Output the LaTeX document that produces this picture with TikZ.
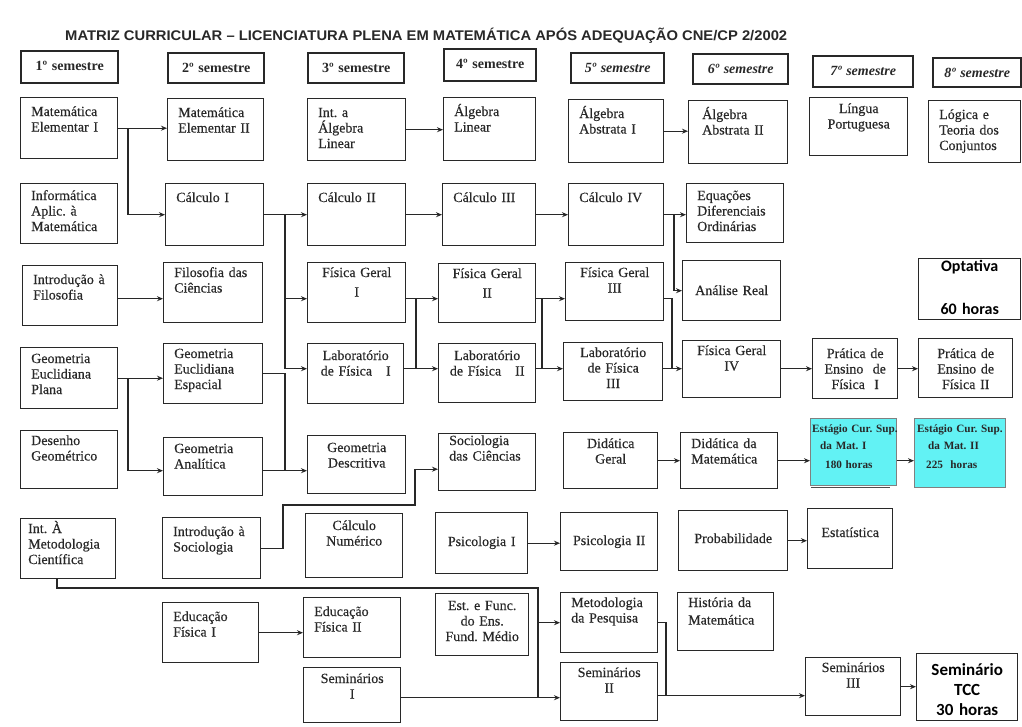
\documentclass[tikz,border=0pt]{standalone}
\usepackage{fontspec}
\usepackage{graphicx}
\usetikzlibrary{arrows.meta,calc}
\newfontfamily\crsfont[FakeBold=0.35]{Liberation Serif}
\newfontfamily\estfont{Liberation Serif}
\newfontfamily\sansfont{Carlito}
\newfontfamily\titlefont{Liberation Sans}
\definecolor{ink}{RGB}{40,40,40}
\definecolor{stagecyan}{RGB}{98,242,244}
\frenchspacing

\tikzset{
  box/.style={draw=ink, line width=1.4pt, inner sep=0pt, fill=white},
  headbox/.style={box, line width=2.4pt},
  ltxt/.style={anchor=base west, inner sep=0pt, text width=95pt, align=left,
    font=\crsfont\fontsize{14}{15.5}\selectfont, text=ink},
  ctxt/.style={anchor=base, inner sep=0pt, text width=100pt, align=center,
    font=\crsfont\fontsize{14}{15.5}\selectfont, text=ink},
  etxt/.style={anchor=base west, inner sep=0pt, text width=95pt, align=left,
    font=\estfont\bfseries\fontsize{11.2}{13}\selectfont, text=ink},
  stxt/.style={anchor=base, inner sep=0pt, text width=100pt, align=center,
    font=\sansfont\bfseries\fontsize{16}{20}\selectfont, text=black},
  wire/.style={draw=ink, line width=1.2pt},
  arr/.style={wire, -{Stealth[length=6pt,width=5pt]}},
}

% course box with left-aligned text
\newcommand\crs[7][]{%
  \node[box,anchor=north west,minimum width={#5-#3},minimum height={#6-#4}] (#2) at (#3,#4) {};
  \node[ltxt,#1] (#2-t) at ([shift={(11,19)}]#2.north west) {#7};}
% course box with centred text
\newcommand\crc[7][]{%
  \node[box,anchor=north west,minimum width={#5-#3},minimum height={#6-#4}] (#2) at (#3,#4) {};
  \node[ctxt,#1] (#2-t) at ([shift={(0,19)}]#2.north) {#7};}
% semester heading
\newcommand\hdr[6]{%
  \node[headbox,anchor=north west,minimum width={#4-#2},minimum height={#5-#3}] (#1) at (#2,#3) {};
  \node[ctxt,font=\estfont\bfseries\fontsize{14}{15}\selectfont] (#1-t) at ([shift={(0,20)}]#1.north) {#6};}

\begin{document}
\begin{tikzpicture}[x=1pt,y=-1pt]
\useasboundingbox (0,0) rectangle (1022,726);
\fill[white] (0,0) rectangle (1022,726);

% title
\node[anchor=base west, inner sep=0pt, text=ink] (title) at (65,40)
  {\resizebox{722pt}{\height}{\titlefont\bfseries\fontsize{14}{16}\selectfont
   MATRIZ CURRICULAR – LICENCIATURA PLENA EM MATEMÁTICA APÓS ADEQUAÇÃO CNE/CP 2/2002}};

% semester headings
\hdr{h1}{20}{50}{117}{82}{1º semestre}
\hdr{h2}{167}{52}{263}{82}{2º semestre}
\hdr{h3}{307}{52}{403}{82}{3º semestre}
\hdr{h4}{443}{48}{535}{80}{4º semestre}
\hdr{h5}{570}{52}{663}{82}{\itshape 5º semestre}
\hdr{h6}{692}{53}{787}{83}{\itshape 6º semestre}
\hdr{h7}{812}{55}{912}{86}{\itshape 7º semestre}
\hdr{h8}{932}{57}{1020}{86}{\itshape 8º semestre}

% row 1
\crs{me1}{20}{97}{117}{158}{Matemática\\Elementar I}
\crs{me2}{167}{98}{263}{160}{Matemática\\Elementar II}
\crs{ial}{307}{98}{405}{160}{Int. a\\Álgebra\\Linear}
\crs{al}{443}{97}{535}{160}{Álgebra\\Linear}
\crs{aa1}{568}{99}{663}{162}{Álgebra\\Abstrata I}
\crs[xshift=3pt]{aa2}{688}{100}{787}{163}{Álgebra\\Abstrata II}
\crc[yshift=3pt]{lp}{809}{97}{907}{155}{Língua\\Portuguesa}
\crs{ltc}{928}{100}{1020}{162}{Lógica e\\Teoria dos\\Conjuntos}

% row 2
\crs[yshift=2pt]{inf}{20}{183}{117}{243}{Informática\\Aplic. à\\Matemática}
\crs{c1}{165}{183}{263}{245}{Cálculo I}
\crs{c2}{307}{183}{405}{245}{Cálculo II}
\crs{c3}{442}{183}{535}{245}{Cálculo III}
\crs{c4}{568}{183}{663}{245}{Cálculo IV}
\crs[yshift=2pt]{edo}{686}{183}{783}{242}{Equações\\Diferenciais\\Ordinárias}

% row 3
\crs{ifi}{22}{265}{117}{325}{Introdução à\\Filosofia}
\crs[yshift=4pt]{fc}{163}{262}{262}{322}{Filosofia das\\Ciências}
\crc[yshift=4pt]{fg1}{307}{262}{405}{322}{Física Geral\\[4pt]I}
\crc[yshift=4pt]{fg2}{438}{263}{535}{322}{Física Geral\\[4pt]II}
\crc[yshift=4pt]{fg3}{565}{262}{663}{320}{Física Geral\\III}
\crc[yshift=-16pt]{ar}{682}{260}{780}{320}{Análise Real}
\node[box,anchor=north west,minimum width=102,minimum height=61] (opt) at (918,258) {};
\node[stxt] (opt-a) at ([shift={(0,13)}]opt.north) {Optativa};
\node[stxt] (opt-b) at ([shift={(0,56)}]opt.north) {60 horas};

% row 4
\crs[yshift=3pt]{gep}{20}{347}{117}{408}{Geometria\\Euclidiana\\Plana}
\crs[yshift=4pt]{gee}{163}{343}{262}{403}{Geometria\\Euclidiana\\Espacial}
\crc[yshift=2pt]{lf1}{307}{343}{403}{403}{Laboratório\\de Física\quad I}
\crc[yshift=2pt]{lf2}{438}{343}{535}{402}{Laboratório\\de Física\quad II}
\crc[yshift=4pt]{lf3}{563}{342}{662}{400}{Laboratório\\de Física\\III}
\crc[yshift=4pt]{fg4}{682}{340}{780}{397}{Física Geral\\IV}
\crc[yshift=-1pt]{pe1}{812}{338}{897}{398}{Prática de\\Ensino\ \ de\\Física\ \ I}
\crc[yshift=-1pt]{pe2}{918}{338}{1012}{397}{Prática de\\Ensino de\\Física II}

% row 5
\crs[yshift=4pt]{dg}{20}{430}{117}{488}{Desenho\\Geométrico}
\crs[yshift=3pt]{ga}{163}{437}{262}{495}{Geometria\\Analítica}
\crc[yshift=2pt]{gd}{307}{435}{405}{493}{Geometria\\Descritiva}
\crs[yshift=7pt]{sc}{438}{433}{535}{490}{Sociologia\\das Ciências}
\crc[yshift=3pt]{dgl}{563}{432}{657}{488}{Didática\\Geral}
\crs[yshift=3pt]{dm}{680}{432}{777}{488}{Didática da\\Matemática}
\draw[line width=1.8pt, black!70] (811,487.5) -- (890,487.5);
\node[box,fill=stagecyan,draw=gray,line width=0.8pt,anchor=north west,minimum width=86,minimum height=67] (e1) at (810,418) {};
\node[etxt] (e1-t) at ([shift={(2,14)}]e1.north west)
  {Estágio Cur. Sup.\\[4pt]\hspace*{8pt}da Mat. I\\[6pt]\hspace*{13pt}180 horas};
\node[box,fill=stagecyan,draw=gray,line width=0.8pt,anchor=north west,minimum width=91,minimum height=69] (e2) at (914,418) {};
\node[etxt] (e2-t) at ([shift={(3,14)}]e2.north west)
  {Estágio Cur. Sup.\\[4pt]\hspace*{11pt}da Mat. II\\[6pt]\hspace*{9pt}225\ \ horas};

% row 6
\crs[yshift=4pt,xshift=-3pt]{imc}{20}{518}{115}{578}{Int. À\\Metodologia\\Científica}
\crs{isoc}{162}{517}{260}{578}{Introdução à\\Sociologia}
\crc[yshift=2pt]{cn}{305}{513}{402}{577}{Cálculo\\Numérico}
\crc[yshift=-15pt]{ps1}{435}{512}{527}{573}{Psicologia I}
\crc[yshift=-14pt]{ps2}{560}{512}{657}{570}{Psicologia II}
\crc[yshift=-14pt]{prob}{678}{510}{787}{570}{Probabilidade}
\crc[yshift=-10pt]{est}{807}{508}{892}{568}{Estatística}

% row 7
\crs{ef1}{162}{602}{258}{662}{Educação\\Física I}
\crs{ef2}{303}{597}{400}{657}{Educação\\Física II}
\crc[yshift=2pt]{efm}{435}{593}{528}{655}{Est. e Func.\\do Ens.\\Fund. Médio}
\crs[yshift=4pt]{mp}{560}{592}{657}{652}{Metodologia\\da Pesquisa}
\crs[yshift=4pt]{hm}{677}{592}{773}{650}{História da\\[2pt]Matemática}

% row 8
\crc[yshift=3pt]{s1}{303}{667}{400}{722}{Seminários\\I}
\crc[yshift=4pt]{s2}{560}{662}{657}{720}{Seminários\\II}
\crc[yshift=4pt]{s3}{805}{657}{900}{715}{Seminários\\III}
\node[box,anchor=north west,minimum width=101,minimum height=67] (tcc) at (916,653) {};
\node[stxt,font=\sansfont\bfseries\fontsize{17}{20}\selectfont] (tcc-t) at ([shift={(0,22)}]tcc.north) {Seminário\\TCC\\30 horas};

% junction columns and row levels
\coordinate (j1) at (128,0);
\coordinate (j2) at (285,0);
\coordinate (j3) at (416,0);
\coordinate (j4) at (542,0);
\coordinate (j5) at (674,0);
\coordinate (j6) at (666,0);
\path (fg1.west) ++(0,6) coordinate (yF);
\path (lf1.west) ++(0,-5) coordinate (yL);
\path (ga.west) ++(0,4) coordinate (yA);
\path (sc.west) ++(0,7) coordinate (yS);
\path (dgl.east) coordinate (yD);
\path (s2.west) ++(0,6) coordinate (yT);
\path (s2.east) ++(0,4) coordinate (yU);
\coordinate (k1) at (283,505);
\coordinate (k2) at (415,505);
\coordinate (m1) at (57,588);
\coordinate (m2) at (538,588);

% prerequisite links
\draw[arr] (me1.east) -- (me1.east -| me2.west);
\draw[arr] (j1 |- me1.east) |- (c1.west);
\draw[arr] (ial.east) -- (ial.east -| al.west);
\draw[arr] (aa1.east) -- (aa1.east -| aa2.west);
\draw[arr] (c1.east) -- (c1.east -| c2.west);
\draw[arr] (j2 |- c1.east) |- (yF);
\draw[arr] (j2 |- c1.east) |- (yL);
\draw[arr] (c2.east) -- (c2.east -| c3.west);
\draw[arr] (c3.east) -- (c3.east -| c4.west);
\draw[arr] (c4.east) -- (c4.east -| edo.west);
\draw[arr] (j5 |- c4.east) |- (ar.west);
\draw[arr] (yF -| ifi.east) -- (yF -| fc.west);
\draw[arr] (yF -| fg1.east) -- (yF -| fg2.west);
\draw[arr] (yL -| lf1.east) -- (yL -| lf2.west);
\draw[wire] (yF -| j3) -- (yL -| j3);
\draw[arr] (yF -| fg2.east) -- (yF -| fg3.west);
\draw[arr] (yL -| lf2.east) -- (yL -| lf3.west);
\draw[wire] (yF -| j4) -- (yL -| j4);
\draw[wire] (yF -| fg3.east) -| ([xshift=-2pt]yL -| j5);
\draw[arr] (yL -| lf3.east) -- (yL -| fg4.west);
\draw[arr] (yL -| fg4.east) -- (yL -| pe1.west);
\draw[arr] (yL -| pe1.east) -- (yL -| pe2.west);
\draw[arr] (gep.east) -- (gep.east -| gee.west);
\draw[arr] (j1 |- gep.east) |- (yA);
\draw[arr] (yA -| ga.east) -- (yA -| gd.west);
\draw[wire] (gee.east) -| (yA -| j2);
\draw[arr] (isoc.east) -| (k1) -- (k2) |- (yS);
\draw[arr] (yD) -- (yD -| dm.west);
\draw[arr] (yD -| dm.east) -- (yD -| e1.west);
\draw[arr] (yD -| e1.east) -- (yD -| e2.west);
\draw[arr] (ps1.east) -- (ps1.east -| ps2.west);
\draw[arr] (prob.east) -- (prob.east -| est.west);
\draw[arr] (ef1.east) -- (ef1.east -| ef2.west);
\draw[wire] (imc.south -| m1) -- (m1) -- (m2) -- (m2 |- yT);
\draw[arr] (m2 |- mp.west) -- (mp.west);
\draw[arr] (yT -| s1.east) -- (yT);
\draw[arr] (yU) -- (yU -| s3.west);
\draw[wire] (mp.east) -| (j6 |- yU);
\draw[arr] (s3.east) -- (s3.east -| tcc.west);
\end{tikzpicture}
\end{document}
